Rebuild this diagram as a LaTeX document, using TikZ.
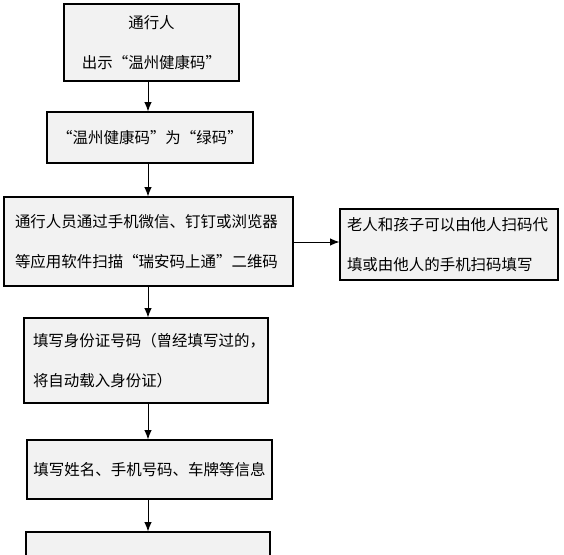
\documentclass[tikz,border=0pt]{standalone}
\usepackage{fontspec}
\newfontfamily\cjk{Noto Sans CJK SC}
\usetikzlibrary{arrows.meta}
\begin{document}
\begin{tikzpicture}[x=0.75pt,y=-0.75pt,
  box/.style={draw=black,line width=0.8pt,fill=boxgray,inner sep=0pt,
    font=\cjk\fontsize{11.6}{30.5}\selectfont},
  arr/.style={-{Latex[length=7pt,width=5.5pt]},line width=0.7pt}]
\definecolor{boxgray}{HTML}{F2F2F2}
\useasboundingbox (0,0) rectangle (564,554);
\clip (0,0) rectangle (564,554);
\fill[white] (0,0) rectangle (564,554);
\node[box,minimum width=175*0.75pt,minimum height=77*0.75pt,align=center] (b1) at (151.5,42.5) {通行人\\出示“温州健康码”};
\node[box,minimum width=206*0.75pt,minimum height=51*0.75pt,align=center] (b2) at (150,137.5) {“温州健康码”为“绿码”};
\node[box,minimum width=289*0.75pt,minimum height=89*0.75pt,text width=267*0.75pt,align=left] (b3) at (148.5,241.5) {通行人员通过手机微信、钉钉或浏览器\\等应用软件扫描“瑞安码上通”二维码};
\node[box,minimum width=218*0.75pt,minimum height=71*0.75pt,text width=204*0.75pt,align=left] (b4) at (449,244.5) {老人和孩子可以由他人扫码代\\填或由他人的手机扫码填写};
\node[box,minimum width=244*0.75pt,minimum height=85*0.75pt,text width=226*0.75pt,align=left] (b5) at (146,360.5) {填写身份证号码（曾经填写过的，\\将自动载入身份证）};
\node[box,minimum width=245*0.75pt,minimum height=59*0.75pt,align=center] (b6) at (149.5,469.5) {填写姓名、手机号码、车牌等信息};
\node[box,minimum width=244*0.75pt,minimum height=60*0.75pt] (b7) at (148,562) {};
\coordinate (ax) at (148,0);
\draw[arr] (b1.south -| ax) -- (b2.north -| ax);
\draw[arr] (b2.south -| ax) -- (b3.north -| ax);
\draw[arr] (b3.south -| ax) -- (b5.north -| ax);
\draw[arr] (b5.south -| ax) -- (b6.north -| ax);
\draw[arr] (b6.south -| ax) -- (b7.north -| ax);
\coordinate (ay) at (0,242);
\draw[arr] (b3.east |- ay) -- (b4.west |- ay);
\end{tikzpicture}
\end{document}
